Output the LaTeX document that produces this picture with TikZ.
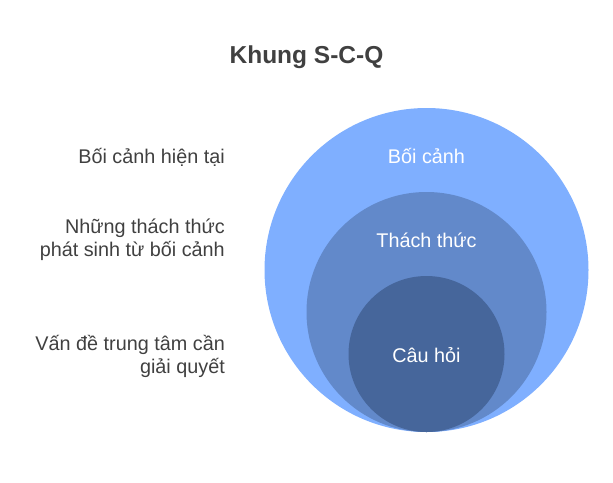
\documentclass[tikz,border=0pt]{standalone}
\usepackage{fontspec}
\setmainfont{Liberation Sans}
\definecolor{ctxblue}{HTML}{7FAFFF}
\definecolor{chlblue}{HTML}{6289CA}
\definecolor{qblue}{HTML}{46669B}
\definecolor{txtgray}{HTML}{404040}
\begin{document}
\begin{tikzpicture}[x=1pt, y=-1pt,
		ring/.style={circle, inner sep=0pt, draw=none},
		inlabel/.style={anchor=base, text=white, font=\fontsize{19.8}{23}\selectfont},
		note/.style={anchor=east, align=right, inner sep=0pt, text=txtgray, font=\fontsize{19.8}{23}\selectfont}]
		\useasboundingbox (0,0) rectangle (613,482);
		
		% title
		\node[anchor=base, text=txtgray, font=\fontsize{24.5}{28}\selectfont\bfseries] (title) at (306.5,63) {Khung S-C-Q};
		
		% nested circles, all touching at the bottom
		\node[ring, fill=ctxblue, minimum size=324pt] (S) at (426.5,270) {};
		\node[ring, fill=chlblue, minimum size=240pt] (C) at (426.5,312) {};
		\node[ring, fill=qblue, minimum size=156pt] (Q) at (426.5,354) {};
		
		% labels inside the circles
		\node[inlabel] (Slbl) at (426.5,163) {Bối cảnh};
		\node[inlabel] (Clbl) at (426.5,247) {Thách thức};
		\node[inlabel] (Qlbl) at (426.5,362) {Câu hỏi};
		
		% notes on the left
		\node[note] (Snote) at (225,157) {Bối cảnh hiện tại};
		\node[note] (Cnote) at (225,239.5) {Những thách thức\\phát sinh từ bối cảnh};
		\node[note] (Qnote) at (225,356.5) {Vấn đề trung tâm cần\\giải quyết};
	\end{tikzpicture}
\end{document}
